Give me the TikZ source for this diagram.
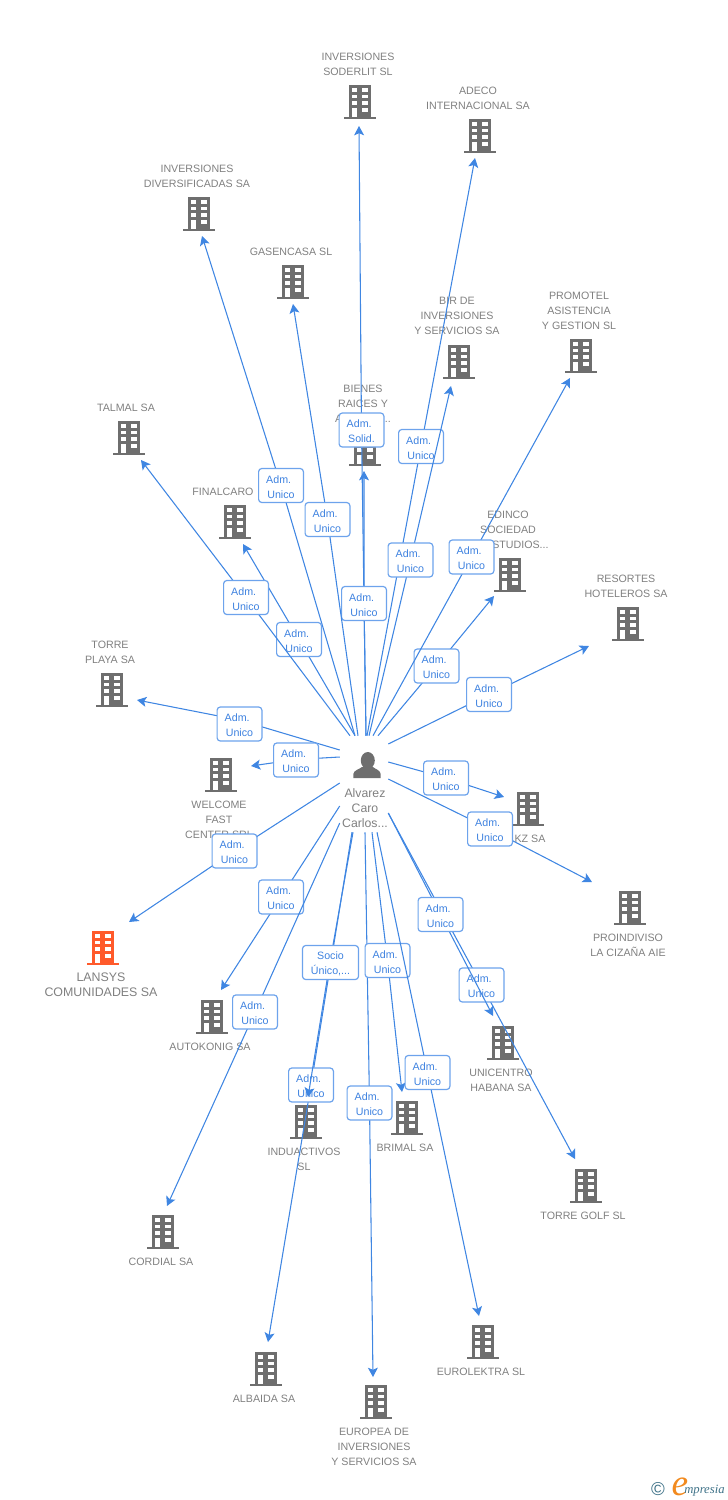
\documentclass[tikz,border=0pt]{standalone}
\usepackage{fontspec}
\setmainfont{Liberation Sans}
\newfontfamily\logofont{Liberation Serif}
\usetikzlibrary{arrows.meta,calc}
\definecolor{gtext}{HTML}{808080}
\definecolor{gicon}{HTML}{6E6E6E}
\definecolor{blueline}{HTML}{3F86E2}
\definecolor{bluebox}{HTML}{6DA3EC}
\definecolor{bluetext}{HTML}{3E82E0}
\definecolor{orangeicon}{HTML}{FF5A2B}
\definecolor{logoteal}{HTML}{3F7288}
\definecolor{logoorange}{HTML}{F28A1E}
\tikzset{
  conn/.style={draw=blueline,line width=0.8pt,-{Stealth[length=7pt,width=7.5pt,inset=1.6pt]}},
  lab/.style={draw=bluebox,line width=0.9pt,rounded corners=2.4pt,fill=white,
     minimum width=33.6pt,minimum height=25.5pt,inner sep=0pt,align=center,text=bluetext,font=\fontsize{8}{11.25}\selectfont},
  blabel/.style={anchor=north,inner sep=0pt,align=center,text=gtext,font=\fontsize{8}{11.25}\selectfont,execute at begin node=\strut},
  pics/bldg/.style={code={
    \fill[#1] (-11.2,-17.5) rectangle (11.2,14.5);
    \fill[#1] (-16,14.5) rectangle (16,17);
    \foreach \yy in {-14,-7.4,-0.8}{
      \fill[white] (-7.8,\yy) rectangle (-2.6,\yy+3.6);
      \fill[white] (2.2,\yy) rectangle (7.6,\yy+3.6);
    }
    \fill[white] (-7.8,6) rectangle (-2.6,14.5);
    \fill[white] (2.2,6) rectangle (7.6,9.6);
  }}
}
% id, icon x, icon y, text x, first line y, text
\newcommand\bld[6]{%
  \pic (b#1) at (#2,#3) {bldg=gicon};
  \node[blabel] (t#1) at (#4,#5-6.7) {#6};
}
% id, start, bend point, arrow end, label position, label text
\newcommand\conn[6]{%
  \coordinate (m#1) at (#3);
  \coordinate (e#1) at (#4);
  \draw[conn] #2 -- (m#1) -- (e#1);
  \node[lab] (l#1) at (#5) {#6};
}
\newcommand\au{\rule{0pt}{8pt}Adm.\hbox to 3.5pt{}\\Unico}
\begin{document}
\begin{tikzpicture}[x=0.75pt,y=-0.75pt]
\useasboundingbox (0,0) rectangle (728,1500);
% companies
\bld{a}{360}{102}{358}{59}{INVERSIONES\\SODERLIT SL}
\bld{b}{480}{136}{478}{93}{ADECO\\INTERNACIONAL SA}
\bld{c}{199}{214}{197}{171}{INVERSIONES\\DIVERSIFICADAS SA}
\bld{d}{293}{282}{291}{251}{GASENCASA SL}
\bld{e}{459}{362}{457}{304}{BIR DE\\INVERSIONES\\Y SERVICIOS SA}
\bld{f}{581}{356}{579}{298}{PROMOTEL\\ASISTENCIA\\Y GESTION SL}
\bld{g}{365}{449}{363}{391}{BIENES\\RAICES Y\\ACTIVOS...}
\bld{h}{129}{438}{126}{407}{TALMAL SA}
\bld{i}{235}{522}{223}{491}{FINALCARO}
\bld{j}{510}{575}{508}{517}{EDINCO\\SOCIEDAD\\DE ESTUDIOS...}
\bld{k}{628}{624}{626}{581}{RESORTES\\HOTELEROS SA}
\bld{l}{112}{690}{110}{647}{TORRE\\PLAYA SA}
\bld{m}{221}{775}{219}{807}{WELCOME\\FAST\\CENTER SRL}
\bld{n}{528}{809}{530}{838}{KZ SA}
\bld{o}{630}{908}{628}{940}{PROINDIVISO\\LA CIZAÑA AIE}
\bld{q}{212}{1017}{210}{1046}{AUTOKONIG SA}
\bld{r}{503}{1043}{501}{1075}{UNICENTRO\\HABANA SA}
\bld{s}{306}{1122}{304}{1154}{INDUACTIVOS\\SL}
\bld{u}{407}{1118}{405}{1147}{BRIMAL SA}
\bld{v}{586}{1186}{583}{1215}{TORRE GOLF SL}
\bld{w}{163}{1232}{161}{1261}{CORDIAL SA}
\bld{x}{483}{1342}{481}{1371}{EUROLEKTRA SL}
\bld{y}{266}{1369}{264}{1398}{ALBAIDA SA}
\bld{z}{376}{1402}{374}{1434}{EUROPEA DE\\INVERSIONES\\Y SERVICIOS SA}
% focus company
\pic (bp) at (103,948) {bldg=orangeicon};
\node[blabel,font=\fontsize{9.3}{11.25}\selectfont] (tp) at (101,973) {LANSYS\\COMUNIDADES SA};
% person
\node[inner sep=0pt,minimum width=36pt,minimum height=72pt] (hub) at (364,784) {};
\fill[gicon] (367.8,760.5) ellipse [x radius=7, y radius=8.5];
\fill[gicon] (353.3,778) -- (353.3,774) .. controls (354,770) and (359,769.5) .. (362,767) -- (373,767) .. controls (376,769.5) and (380,770) .. (380.7,774) -- (380.7,778) -- cycle;
\node[blabel,font=\fontsize{9.2}{11.25}\selectfont] (tperson) at (365,788) {Alvarez\\Caro\\Carlos...};
% connectors and their labels
\conn{1}{($(hub.west)+(0,-34)$)}{239,720}{137,700}{239.5,724}{\au}
\conn{2}{($(hub.west)+(0,-27)$)}{296,759.5}{251,766}{296,760}{\au}
\conn{3}{($(hub.west)+(0,-1)$)}{234.5,851}{129,922}{234.5,851}{\au}
\conn{4}{($(hub.west)+(0,22)$)}{281,897}{221,990}{281,897}{\au}
\conn{5}{($(hub.west)+(0,39)$)}{255,1012}{167,1206}{255,1012}{\au}
\conn{6}{($(hub.south)+(-12,0)$)}{311,1085}{268,1342}{311,1085}{\au}
\begin{scope}[lab/.append style={minimum width=42pt}]
\conn{7}{($(hub.south)+(-11,0)$)}{330,962}{308,1097}{330.5,962.5}{\rule{0pt}{8pt}Socio\\Único,...}
\end{scope}
\conn{8}{($(hub.south)+(1,0)$)}{369.5,1103}{373,1377}{369.5,1103}{\au}
\conn{9}{($(hub.south)+(8,0)$)}{387.5,960.5}{402,1092}{387.5,960.5}{\au}
\conn{10}{($(hub.south)+(13,0)$)}{427.5,1072.5}{479,1316}{427.5,1072.5}{\au}
\conn{11}{($(hub.east)+(0,29)$)}{481.5,985}{575,1159}{481.5,985}{\au}
\conn{12}{($(hub.east)+(0,29)$)}{440.5,914.5}{493,1016}{440.5,914.5}{\au}
\conn{13}{($(hub.east)+(0,-5)$)}{490,829}{592,882}{490,829}{\au}
\conn{14}{($(hub.east)+(0,-22)$)}{446,778}{504,797}{446,778}{\au}
\conn{15}{($(hub.east)+(0,-40)$)}{489,694.5}{589,646}{489,694.5}{\au}
\conn{16}{($(hub.north)+(14,0)$)}{436.5,666}{494,596}{436.5,666}{\au}
\conn{17}{($(hub.north)+(9,0)$)}{471.5,557}{570,378}{471.5,557}{\au}
\conn{18}{($(hub.north)+(3,0)$)}{421,446.5}{475,158}{421,446.5}{\au}
\conn{19}{($(hub.north)+(5,0)$)}{410.5,560}{451,386}{410.5,560}{\au}
\conn{20}{($(hub.north)+(2,0)$)}{361.5,430}{359,126}{361.5,430}{\rule{0pt}{8pt}Adm.\hbox to 3.5pt{}\\Solid.}
\conn{21}{($(hub.north)+(2,0)$)}{364,603.5}{364,471}{364,603.5}{\au}
\conn{22}{($(hub.north)+(-6,0)$)}{327.5,519.5}{293,304}{327.5,519.5}{\au}
\conn{23}{($(hub.north)+(-9,0)$)}{281,485.5}{202,236}{281,485.5}{\au}
\conn{24}{($(hub.north)+(-9,0)$)}{299,639.5}{243,544}{299,639.5}{\au}
\conn{25}{($(hub.north)+(-14,0)$)}{246,597.5}{141,460}{246,597.5}{\au}
% logo
\node[inner sep=0pt,text=logoteal,font=\fontsize{14}{14}\selectfont] (logoc) at (658,1489) {©};
\node[inner sep=0pt,text=logoorange,font=\logofont\itshape\fontsize{28}{28}\selectfont] (logoe) at (680,1487) {e};
\node[inner sep=0pt,anchor=base west,text=logoteal,font=\logofont\itshape\fontsize{9.5}{10}\selectfont] (logot) at (684,1493) {mpresia};
\end{tikzpicture}
\end{document}
